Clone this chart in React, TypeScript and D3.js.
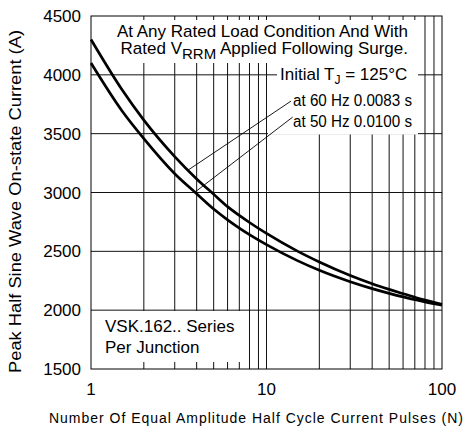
import React from "react";
import * as d3 from "d3";

const W = 466;
const H = 436;

const yTicks = [1500, 2000, 2500, 3000, 3500, 4000, 4500];
const xTickLabels = [1, 10, 100];
const xGrid = [2, 3, 4, 5, 6, 7, 8, 9, 10, 20, 30, 40, 50, 60, 70, 80, 90];

const pulses = [1, 1.5, 2, 3, 4, 5, 6, 7, 8, 10, 15, 20, 30, 40, 50, 60, 70, 80, 100];
const current60Hz = [4300, 3875, 3615, 3305, 3115, 2985, 2880, 2805, 2745, 2652, 2502, 2410, 2295, 2225, 2177, 2140, 2110, 2086, 2050];
const current50Hz = [4100, 3695, 3458, 3160, 2990, 2860, 2768, 2698, 2642, 2557, 2421, 2339, 2242, 2183, 2143, 2113, 2090, 2071, 2043];

// leader lines [fromN, fromA, toN, toA]
const leader60 = [3.57, 3190, 13.8, 3777];
const leader50 = [3.91, 3003, 14.1, 3641];

const FONT = "'Liberation Sans', Arial, Helvetica, sans-serif";

export default function App() {
  const left = 91, right = 442, top = 16, bottom = 369;
  const x = d3.scaleLog().domain([1, 100]).range([left, right]);
  const y = d3.scaleLinear().domain([1500, 4500]).range([bottom, top]);

  const line = d3
    .line<number>()
    .x((_, i) => x(pulses[i]))
    .y((d) => y(d))
    .curve(d3.curveMonotoneX);

  return (
    <svg width={W} height={H} style={{ position: "absolute", left: 0, top: 0, background: "#fff" }} fontFamily={FONT}>
      <rect x={0} y={0} width={W} height={H} fill="#fff" />
      {/* grid */}
      {yTicks.slice(1, -1).map((t) => (
        <line key={"h" + t} x1={left} x2={right} y1={y(t)} y2={y(t)} stroke="#111" strokeWidth={1} />
      ))}
      {xGrid.map((t) => (
        <line key={"v" + t} x1={x(t)} x2={x(t)} y1={top} y2={bottom} stroke="#111" strokeWidth={1} />
      ))}
      {/* white label boxes */}
      <rect x={left + 1} y={20} width={418 - left - 1} height={43} fill="#fff" />
      <rect x={277} y={63} width={141} height={21} fill="#fff" />
      <rect x={268} y={84} width={150} height={50.5} fill="#fff" />
      <rect x={left + 1} y={311} width={245 - left - 1} height={51} fill="#fff" />
      {/* border */}
      <rect x={left} y={top} width={right - left} height={bottom - top} fill="none" stroke="#000" strokeWidth={1} />
      {/* curves */}
      <path d={line(current60Hz) || ""} fill="none" stroke="#000" strokeWidth={2.7} />
      <path d={line(current50Hz) || ""} fill="none" stroke="#000" strokeWidth={2.7} />
      {/* leaders */}
      {[leader60, leader50].map((l, i) => (
        <line key={"l" + i} x1={x(l[0])} y1={y(l[1])} x2={x(l[2])} y2={y(l[3])} stroke="#000" strokeWidth={0.9} />
      ))}
      {/* y tick labels */}
      {yTicks.map((t) => (
        <text key={"yt" + t} x={81} y={y(t)} dy="0.36em" textAnchor="end" fontSize={17} fill="#000">
          {t}
        </text>
      ))}
      {/* x tick labels */}
      {xTickLabels.map((t) => (
        <text key={"xt" + t} x={x(t)} y={395} textAnchor="middle" fontSize={17} fill="#000">
          {t}
        </text>
      ))}
      {/* annotations */}
      <text x={408} y={37} textAnchor="end" fontSize={17}>
        At Any Rated Load Condition And With
      </text>
      <text x={408} y={54} textAnchor="end" fontSize={17}>
        Rated V
        <tspan fontSize={15} dy={5}>RRM</tspan>
        <tspan dy={-5}> Applied Following Surge.</tspan>
      </text>
      <text x={280} y={80} fontSize={17}>
        Initial T
        <tspan fontSize={12} dy={4}>J</tspan>
        <tspan dy={-4}> = 125°C</tspan>
      </text>
      <text x={293} y={106} fontSize={16} textLength={119} lengthAdjust="spacingAndGlyphs">
        at 60 Hz 0.0083 s
      </text>
      <text x={293} y={127} fontSize={16} textLength={119} lengthAdjust="spacingAndGlyphs">
        at 50 Hz 0.0100 s
      </text>
      <text x={105} y={332} fontSize={17}>
        VSK.162.. Series
      </text>
      <text x={105} y={353} fontSize={17}>
        Per Junction
      </text>
      {/* axis titles */}
      <text x={49} y={423} fontSize={14} textLength={414} lengthAdjust="spacing">
        Number Of Equal Amplitude Half Cycle Current Pulses (N)
      </text>
      <text
        transform="translate(21,373) rotate(-90)"
        x={0}
        y={0}
        fontSize={17}
        textLength={343}
        lengthAdjust="spacingAndGlyphs"
      >
        Peak Half Sine Wave On-state Current (A)
      </text>
    </svg>
  );
}
